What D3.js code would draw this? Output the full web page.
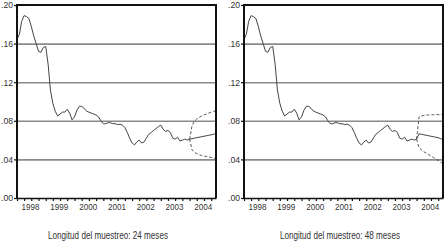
<!DOCTYPE html>
<html>
<head>
<meta charset="utf-8">
<script src="https://cdn.jsdelivr.net/npm/d3@7"></script>
<style>
  body { margin: 0; background: #fff; }
  svg text { font-family: "Liberation Sans Narrow", "Liberation Sans", Arial, sans-serif; fill: #333; }
</style>
</head>
<body>
<div id="chart"></div>
<script>
// Monthly series, 1998m01 .. 2004m01
let histStart = "1998-01"
let histValues = [
  .164, .170, .183, .189, .188, .186, .178, .168, .160, .152, .151, .156,
  .157, .138, .112, .098, .090, .085, .087, .089, .089, .092, .088, .081,
  .084, .091, .095, .095, .093, .090, .089, .088, .087, .086, .084, .080,
  .077, .077, .078, .078, .077, .077, .076, .0765, .0755, .073, .068, .062,
  .057, .055, .058, .060, .057, .058, .062, .066, .068, .070, .072, .074,
  .0755, .071, .069, .070, .068, .062, .061, .063, .059, .060, .061, .060,
  .061
]

// Forecast months 2004m01 .. 2004m12
let fcStart = "2004-01"

// Sample length 24 months
let upper24   = [.061, .075, .0795, .082, .0835, .085, .086, .087, .088, .089, .0898, .0905]
let central24 = [.061, .0615, .062, .0625, .063, .0635, .064, .0645, .065, .0655, .066, .067]
let lower24   = [.061, .050, .0475, .046, .045, .044, .0435, .043, .0425, .042, .0415, .041]

// Sample length 48 months
let upper48   = [.061, .084, .085, .0855, .086, .086, .0862, .0862, .0864, .0864, .0865, .0865]
let central48 = [.061, .0666, .066, .0655, .065, .0645, .064, .0635, .063, .0625, .0615, .0605]
let lower48   = [.061, .052, .050, .048, .0465, .045, .0435, .042, .0405, .039, .037, .0355]

let yTicks = [0, .04, .08, .12, .16, .20]
let gridValues = [.04, .08, .12, .16]
let years = [1998, 1999, 2000, 2001, 2002, 2003, 2004]
let captions = ["Longitud del muestreo: 24 meses", "Longitud del muestreo: 48 meses"]

const parseMonth = d3.timeParse("%Y-%m")

function toSeries(start, values) {
  let d0 = parseMonth(start)
  return values.map((v, i) => ({ date: d3.timeMonth.offset(d0, i), value: v }))
}

const width = 448, height = 242
const svg = d3.select("#chart").append("svg")
  .attr("width", width).attr("height", height)

function drawPanel(offsetX, upper, central, lower, caption, captionX) {
  const left = 17, right = 216, top = 5, bottom = 198
  const g = svg.append("g").attr("transform", `translate(${offsetX},0)`)

  const x = d3.scaleTime()
    .domain([parseMonth("1998-01"), parseMonth("2004-12")])
    .range([left, right])
  const y = d3.scaleLinear().domain([0, .20]).range([bottom, top])

  // grid lines
  g.append("g")
    .attr("transform", `translate(${left},0)`)
    .call(d3.axisLeft(y).tickValues(gridValues).tickSize(-(right - left)).tickFormat(""))
    .call(a => a.select(".domain").remove())
    .selectAll("line").attr("stroke", "#8a8a8a").attr("stroke-width", 1.6)

  const line = d3.line().x(d => x(d.date)).y(d => y(d.value))

  g.append("path")
    .datum(toSeries(histStart, histValues))
    .attr("d", line).attr("fill", "none")
    .attr("stroke", "#444").attr("stroke-width", 1)

  g.append("path")
    .datum(toSeries(fcStart, central))
    .attr("d", line).attr("fill", "none")
    .attr("stroke", "#444").attr("stroke-width", 1)

  for (let band of [upper, lower]) {
    g.append("path")
      .datum(toSeries(fcStart, band))
      .attr("d", line).attr("fill", "none")
      .attr("stroke", "#444").attr("stroke-width", 0.9)
      .attr("stroke-dasharray", "3,2")
  }

  // frame
  g.append("path")
    .attr("d", `M${left},${bottom}V${top}H${right}V${bottom}`)
    .attr("fill", "none").attr("stroke", "#111").attr("stroke-width", 2)

  // y axis
  g.append("g")
    .attr("transform", `translate(${left},0)`)
    .call(d3.axisLeft(y).tickValues(yTicks).tickSize(3).tickPadding(1)
      .tickFormat(d => d3.format(".2f")(d).replace(/^0/, "")))
    .call(a => a.select(".domain").remove())
    .call(a => a.selectAll("line").attr("stroke", "#111").attr("stroke-width", 1.2))
    .call(a => a.selectAll("text").attr("font-size", 9).attr("fill", "#333")
      .attr("textLength", 12).attr("lengthAdjust", "spacingAndGlyphs"))

  // x axis quarterly ticks
  g.append("g")
    .attr("transform", `translate(0,${bottom})`)
    .call(d3.axisBottom(x).ticks(d3.timeMonth.every(3)).tickSize(3).tickSizeOuter(0).tickFormat(""))
    .call(a => a.select(".domain").attr("stroke", "#111").attr("stroke-width", 1.6))
    .call(a => a.selectAll("line").attr("stroke", "#111").attr("stroke-width", 1.2))

  // year labels centred on each year
  g.append("g")
    .attr("transform", `translate(0,${bottom})`)
    .call(d3.axisBottom(x).tickValues(years.map(yr => new Date(yr, 5, 16)))
      .tickSize(0).tickPadding(5).tickFormat(d3.timeFormat("%Y")))
    .call(a => a.select(".domain").remove())
    .call(a => a.selectAll("text").attr("font-size", 9.5).attr("fill", "#333")
      .attr("textLength", 18).attr("lengthAdjust", "spacingAndGlyphs"))

  g.append("text")
    .attr("x", captionX).attr("y", 239)
    .attr("text-anchor", "middle")
    .attr("font-size", 10)
    .attr("textLength", 120).attr("lengthAdjust", "spacingAndGlyphs")
    .text(caption)
}

drawPanel(0, upper24, central24, lower24, captions[0], 108)
drawPanel(227, upper48, central48, lower48, captions[1], 113)
</script>
</body>
</html>
